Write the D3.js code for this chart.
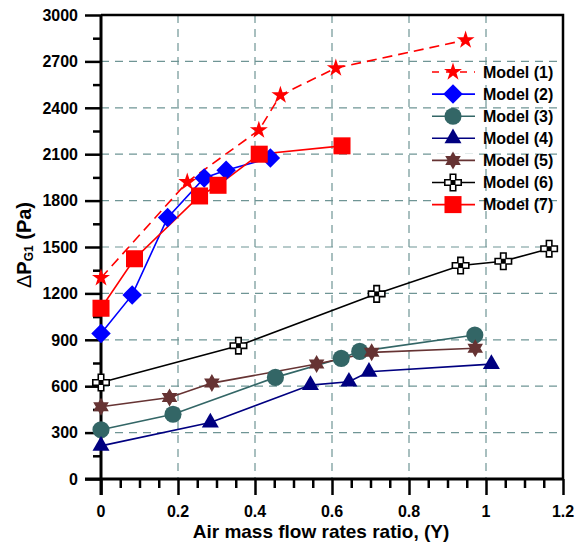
<!DOCTYPE html>
<html>
<head>
<meta charset="utf-8">
<script src="https://cdn.jsdelivr.net/npm/d3@7"></script>
<style>
	body { margin: 0; background: #fff; }
	svg { display: block; font-family: Arial, 'Liberation Sans', sans-serif; }
</style>
</head>
<body>
<svg id="chart"></svg>
<script>
	'use strict';

	var modelNames = ['Model (1)', 'Model (2)', 'Model (3)', 'Model (4)', 'Model (5)', 'Model (6)', 'Model (7)'];

	var model1X = [0, 0.224, 0.41, 0.466, 0.61, 0.947],
		model1Y = [1300, 1920, 2255, 2482, 2657, 2838];
	var model2X = [0, 0.081, 0.173, 0.268, 0.325, 0.44],
		model2Y = [940, 1190, 1690, 1946, 1996, 2076];
	var model3X = [0, 0.187, 0.453, 0.624, 0.672, 0.971],
		model3Y = [318, 419, 657, 780, 825, 931];
	var model4X = [0, 0.284, 0.544, 0.644, 0.696, 1.014],
		model4Y = [214, 365, 607, 629, 693, 743];
	var model5X = [0, 0.178, 0.288, 0.56, 0.703, 0.972],
		model5Y = [467, 527, 620, 743, 819, 845];
	var model6X = [0, 0.357, 0.716, 0.934, 1.045, 1.164],
		model6Y = [624, 862, 1197, 1380, 1408, 1489];
	var model7X = [0, 0.087, 0.256, 0.304, 0.411, 0.626],
		model7Y = [1104, 1424, 1830, 1899, 2100, 2154];

	var xTicks = [0, 0.2, 0.4, 0.6, 0.8, 1, 1.2],
		yTicks = [0, 300, 600, 900, 1200, 1500, 1800, 2100, 2400, 2700, 3000];

	var w = 576,
		h = 544,
		pLeft = 101,
		pRight = 563,
		pTop = 15,
		pBottom = 479,
		gridColor = '#6f9595',
		svg, x, y, series, plot, legend;

	// hexagram (six pointed star) for model 5
	var symbolHexagram = {
		draw: function (ctx, size) {
			var r = Math.sqrt(size) * 0.62, i, a;
			for (i = 0; i < 3; i++) {
				a = -Math.PI / 2 + i * 2 * Math.PI / 3;
				ctx[i ? 'lineTo' : 'moveTo'](r * Math.cos(a), r * Math.sin(a));
			}
			ctx.closePath();
			for (i = 0; i < 3; i++) {
				a = Math.PI / 2 + i * 2 * Math.PI / 3;
				ctx[i ? 'lineTo' : 'moveTo'](r * Math.cos(a), r * Math.sin(a));
			}
			ctx.closePath();
		}
	};

	series = [
		{ name: modelNames[0], xs: model1X, ys: model1Y, color: '#ff0000', dash: '10,6', symbol: d3.symbolStar, size: 100, fill: '#ff0000' },
		{ name: modelNames[1], xs: model2X, ys: model2Y, color: '#0000ff', dash: null, symbol: d3.symbolSquare, size: 190, rot: 45, fill: '#0000ff' },
		{ name: modelNames[2], xs: model3X, ys: model3Y, color: '#336666', dash: null, symbol: d3.symbolCircle, size: 230, fill: '#336666' },
		{ name: modelNames[3], xs: model4X, ys: model4Y, color: '#000080', dash: null, symbol: d3.symbolTriangle, size: 125, fill: '#000080' },
		{ name: modelNames[4], xs: model5X, ys: model5Y, color: '#663333', dash: null, symbol: symbolHexagram, size: 210, fill: '#663333' },
		{ name: modelNames[5], xs: model6X, ys: model6Y, color: '#000000', dash: null, symbol: d3.symbolCross, size: 150, fill: '#ffffff', plusCenter: true },
		{ name: modelNames[6], xs: model7X, ys: model7Y, color: '#ff0000', dash: null, symbol: d3.symbolSquare, size: 290, fill: '#ff0000' }
	];

	svg = d3.select('#chart')
		.attr('width', w)
		.attr('height', h);

	x = d3.scaleLinear().domain([0, 1.2]).range([pLeft, pRight]);
	y = d3.scaleLinear().domain([0, 3000]).range([pBottom, pTop]);

	// grid
	svg.append('g')
		.selectAll('line')
		.data(xTicks.slice(1, -1))
		.enter()
		.append('line')
		.attr('x1', function (d) { return x(d); })
		.attr('x2', function (d) { return x(d); })
		.attr('y1', pTop)
		.attr('y2', pBottom)
		.attr('stroke', gridColor)
		.attr('stroke-width', 1.2)
		.attr('stroke-dasharray', '8,6');

	svg.append('g')
		.selectAll('line')
		.data(yTicks.slice(1, -1))
		.enter()
		.append('line')
		.attr('x1', pLeft)
		.attr('x2', pRight)
		.attr('y1', function (d) { return y(d); })
		.attr('y2', function (d) { return y(d); })
		.attr('stroke', gridColor)
		.attr('stroke-width', 1.2)
		.attr('stroke-dasharray', '8,6');

	// frame (top / right)
	svg.append('path')
		.attr('d', 'M' + pLeft + ',' + pTop + 'H' + pRight + 'V' + pBottom)
		.attr('fill', 'none')
		.attr('stroke', '#000')
		.attr('stroke-width', 2.5);

	// axes
	var xAxis = svg.append('g')
		.attr('transform', 'translate(0,' + pBottom + ')')
		.call(d3.axisBottom(x).tickValues(d3.range(0, 1.2001, 0.05)).tickSize(9).tickFormat(''));
	xAxis.selectAll('.tick line')
		.attr('stroke-width', 2.5)
		.attr('y2', function (d) { return Math.abs(d / 0.2 - Math.round(d / 0.2)) < 1e-6 ? 16 : 9; });
	xAxis.select('.domain').attr('stroke-width', 3).attr('d', 'M' + (pLeft - 16) + ',0H' + pRight);

	svg.append('g')
		.selectAll('text')
		.data(xTicks)
		.enter()
		.append('text')
		.attr('x', function (d) { return x(d); })
		.attr('y', 517)
		.attr('text-anchor', 'middle')
		.attr('font-size', 16)
		.attr('font-weight', 'bold')
		.text(function (d) { return d; });

	var yAxis = svg.append('g')
		.attr('transform', 'translate(' + pLeft + ',0)')
		.call(d3.axisLeft(y).tickValues(d3.range(0, 3001, 150)).tickSize(8).tickFormat(''));
	yAxis.selectAll('.tick line')
		.attr('stroke-width', 2.5)
		.attr('x2', function (d) { return d % 300 === 0 ? -16 : -8; });
	yAxis.select('.domain').attr('stroke-width', 3).attr('d', 'M0,' + pTop + 'V' + (pBottom + 16));

	svg.append('g')
		.selectAll('text')
		.data(yTicks)
		.enter()
		.append('text')
		.attr('x', 78)
		.attr('y', function (d) { return y(d); })
		.attr('dy', '0.36em')
		.attr('text-anchor', 'end')
		.attr('font-size', 16)
		.attr('font-weight', 'bold')
		.text(function (d) { return d; });

	// axis titles
	svg.append('text')
		.attr('x', 321)
		.attr('y', 538)
		.attr('text-anchor', 'middle')
		.attr('font-size', 19)
		.attr('font-weight', 'bold')
		.text('Air mass flow rates ratio, (Y)');

	var yTitle = svg.append('text')
		.attr('transform', 'translate(31,245) rotate(-90)')
		.attr('text-anchor', 'middle')
		.attr('font-size', 20)
		.attr('font-weight', 'bold');
	yTitle.append('tspan').attr('font-weight', 'normal').text('\u0394');
	yTitle.append('tspan').text('P');
	yTitle.append('tspan').attr('font-size', 12).attr('dy', 2).text('G1');
	yTitle.append('tspan').attr('dy', -2).text(' (Pa)');

	function drawMarker(g, s) {
		g.append('path')
			.attr('d', d3.symbol().type(s.symbol).size(s.size)())
			.attr('transform', s.rot ? 'rotate(' + s.rot + ')' : null)
			.attr('fill', s.fill)
			.attr('stroke', s.plusCenter ? '#000' : 'none')
			.attr('stroke-width', 1.6);
		if (s.plusCenter) {
			g.append('rect')
				.attr('x', -2.5)
				.attr('y', -2.5)
				.attr('width', 5)
				.attr('height', 5)
				.attr('fill', '#000');
		}
	}

	// lines and markers
	plot = svg.append('g');
	series.forEach(function (s) {
		var pts = s.xs.map(function (v, i) { return [v, s.ys[i]]; });
		plot.append('path')
			.datum(pts)
			.attr('fill', 'none')
			.attr('stroke', s.color)
			.attr('stroke-width', 1.6)
			.attr('stroke-dasharray', s.dash)
			.attr('d', d3.line()
				.x(function (d) { return x(d[0]); })
				.y(function (d) { return y(d[1]); }));
	});
	series.forEach(function (s) {
		var pts = s.xs.map(function (v, i) { return [v, s.ys[i]]; });
		plot.append('g')
			.selectAll('g')
			.data(pts)
			.enter()
			.append('g')
			.attr('transform', function (d) { return 'translate(' + x(d[0]) + ',' + y(d[1]) + ')'; })
			.each(function () { drawMarker(d3.select(this), s); });
	});

	// legend
	legend = svg.append('g')
		.attr('transform', 'translate(432,72)');
	legend.selectAll('g')
		.data(series)
		.enter()
		.append('g')
		.attr('transform', function (d, i) { return 'translate(0,' + (i * 22.1) + ')'; })
		.each(function (s) {
			var g = d3.select(this);
			g.append('rect')
				.attr('x', 0)
				.attr('y', -7)
				.attr('width', 46)
				.attr('height', 14)
				.attr('fill', '#fff');
			g.append('line')
				.attr('x1', 0)
				.attr('x2', 43)
				.attr('stroke', s.color)
				.attr('stroke-width', 1.6)
				.attr('stroke-dasharray', s.dash ? '7,7' : null);
			drawMarker(g.append('g').attr('transform', 'translate(21,0)'), s);
			g.append('text')
				.attr('x', 51)
				.attr('dy', '0.36em')
				.attr('font-size', 16)
				.attr('font-weight', 'bold')
				.text(s.name);
		});
</script>
</body>
</html>
